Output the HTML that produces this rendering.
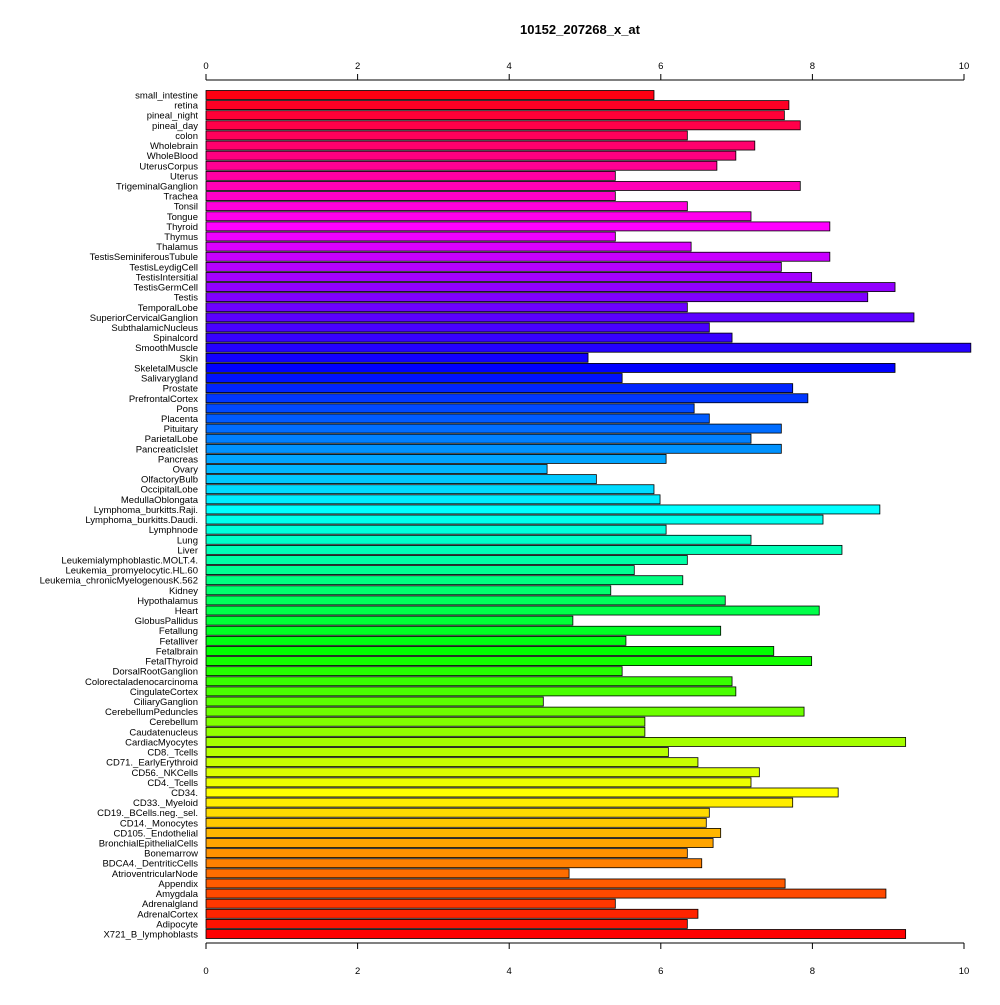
<!DOCTYPE html>
<html><head><meta charset="utf-8"><style>
body{margin:0;background:#fff}
svg text{font-family:"Liberation Sans",Arial,sans-serif}
</style></head><body>
<svg id="chart" width="1000" height="1000" xmlns="http://www.w3.org/2000/svg">
<rect width="1000" height="1000" fill="#fff"/>
<text x="580" y="34" text-anchor="middle" font-size="13" font-weight="bold">10152_207268_x_at</text>
<g id="bars"></g><g id="axes"></g>
</svg>
<script>
const categories=["small_intestine","retina","pineal_night","pineal_day","colon","Wholebrain","WholeBlood","UterusCorpus","Uterus","TrigeminalGanglion","Trachea","Tonsil","Tongue","Thyroid","Thymus","Thalamus","TestisSeminiferousTubule","TestisLeydigCell","TestisIntersitial","TestisGermCell","Testis","TemporalLobe","SuperiorCervicalGanglion","SubthalamicNucleus","Spinalcord","SmoothMuscle","Skin","SkeletalMuscle","Salivarygland","Prostate","PrefrontalCortex","Pons","Placenta","Pituitary","ParietalLobe","PancreaticIslet","Pancreas","Ovary","OlfactoryBulb","OccipitalLobe","MedullaOblongata","Lymphoma_burkitts.Raji.","Lymphoma_burkitts.Daudi.","Lymphnode","Lung","Liver","Leukemialymphoblastic.MOLT.4.","Leukemia_promyelocytic.HL.60","Leukemia_chronicMyelogenousK.562","Kidney","Hypothalamus","Heart","GlobusPallidus","Fetallung","Fetalliver","Fetalbrain","FetalThyroid","DorsalRootGanglion","Colorectaladenocarcinoma","CingulateCortex","CiliaryGanglion","CerebellumPeduncles","Cerebellum","Caudatenucleus","CardiacMyocytes","CD8._Tcells","CD71._EarlyErythroid","CD56._NKCells","CD4._Tcells","CD34.","CD33._Myeloid","CD19._BCells.neg._sel.","CD14._Monocytes","CD105._Endothelial","BronchialEpithelialCells","Bonemarrow","BDCA4._DentriticCells","AtrioventricularNode","Appendix","Amygdala","Adrenalgland","AdrenalCortex","Adipocyte","X721_B_lymphoblasts"];
const values=[5.91,7.69,7.63,7.84,6.35,7.24,6.99,6.74,5.40,7.84,5.40,6.35,7.19,8.23,5.40,6.40,8.23,7.59,7.99,9.09,8.73,6.35,9.34,6.64,6.94,10.09,5.04,9.09,5.49,7.74,7.94,6.44,6.64,7.59,7.19,7.59,6.07,4.50,5.15,5.91,5.99,8.89,8.14,6.07,7.19,8.39,6.35,5.65,6.29,5.34,6.85,8.09,4.84,6.79,5.54,7.49,7.99,5.49,6.94,6.99,4.45,7.89,5.79,5.79,9.23,6.10,6.49,7.30,7.19,8.34,7.74,6.64,6.60,6.79,6.69,6.35,6.54,4.79,7.64,8.97,5.40,6.49,6.35,9.23];
const ticks=[0,2,4,6,8,10];
const NS="http://www.w3.org/2000/svg";
const x=v=>206+v*75.8;
const n=categories.length;
const y=i=>95+i*(934-95)/(n-1);
const bars=document.getElementById('bars'),axes=document.getElementById('axes');
function mk(t,a,p){const e=document.createElementNS(NS,t);for(const k in a)e.setAttribute(k,a[k]);p.appendChild(e);return e;}
categories.forEach((c,i)=>{
 const j=n-1-i;
 const r=mk('rect',{x:x(0),y:y(i)-4.5,width:x(values[i])-x(0),height:9,fill:`hsl(${j/n*360},100%,50%)`,stroke:'#000','stroke-width':0.8},bars);
 
 
 const t=mk('text',{x:198,y:y(i)+3.5,'text-anchor':'end','font-size':9.5},bars);
 t.textContent=c;
 
 
});
[[80,-1,66],[943,1,971]].forEach(([ay,d,ly],k)=>{
 const l=mk('line',{x1:x(0),x2:x(10),y1:ay,y2:ay,stroke:'#000'},axes);
 
 
 ticks.forEach(t=>{
  mk('line',{x1:x(t),x2:x(t),y1:ay,y2:ay+d*6,stroke:'#000'},axes);
  const tx=mk('text',{x:x(t),y:ly+3,'text-anchor':'middle','font-size':9.5},axes);
  tx.textContent=t;
  
  
 });
});
</script>
</body></html>
